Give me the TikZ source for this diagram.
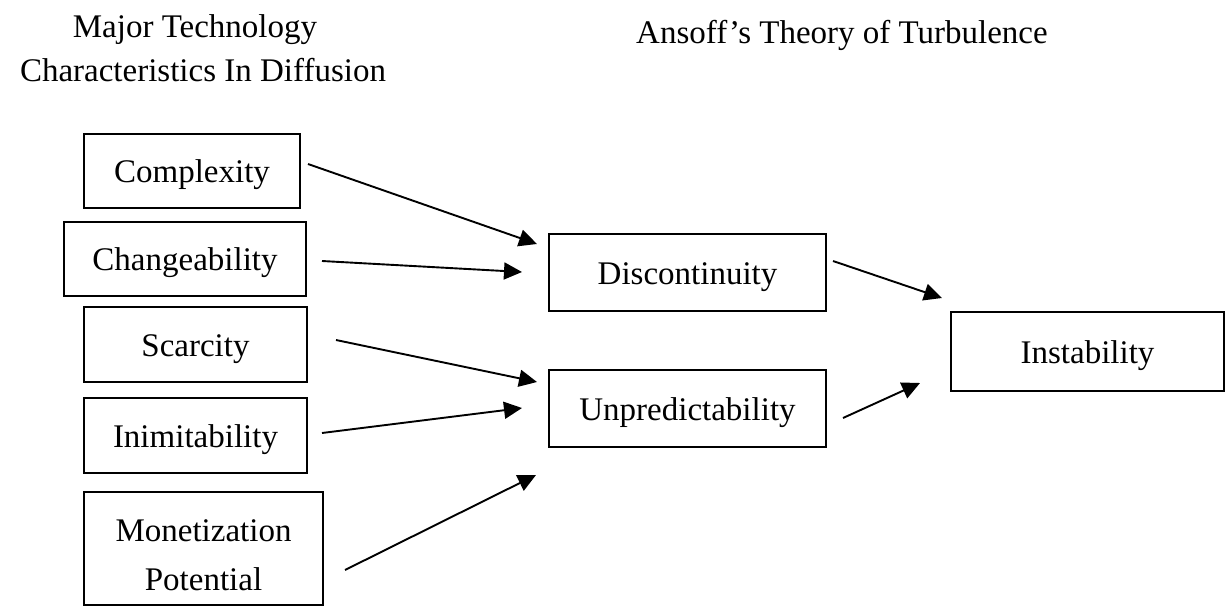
\documentclass[tikz,border=0pt]{standalone}
\usepackage{fontspec}
\setmainfont{Liberation Serif}
\usetikzlibrary{arrows.meta}
\begin{document}
\begin{tikzpicture}[x=1pt,y=-1pt,
  box/.style={draw=black,line width=2.7pt,inner sep=0pt,align=center,
    text height=27pt,text depth=4pt,font=\fontsize{33}{49}\selectfont},
  title/.style={inner sep=0pt,anchor=base,font=\fontsize{33}{45}\selectfont},
  link/.style={line width=1.9pt,-{Triangle[length=18pt,width=17pt]}}]
\useasboundingbox (0,0) rectangle (1226,608);
% headings
\node[title] (h1) at (195,37) {Major Technology};
\node[title] (h1b) at (203,81) {Characteristics In Diffusion};
\node[title] (h2) at (842,43) {Ansoff’s Theory of Turbulence};
% technology characteristics
\node[box,minimum width=216pt,minimum height=74pt] (cx) at (192,171) {Complexity};
\node[box,minimum width=242pt,minimum height=74pt] (ch) at (185,259) {Changeability};
\node[box,minimum width=223pt,minimum height=75pt] (sc) at (195.5,344.5) {Scarcity};
\node[box,minimum width=223pt,minimum height=75pt] (im) at (195.5,435.5) {Inimitability};
\node[box,minimum width=239pt,minimum height=113pt,text height=83pt,text depth=0pt]
  (mo) at (203.5,548.5) {Monetization\\Potential};
% turbulence
\node[box,minimum width=277pt,minimum height=77pt] (di) at (687.5,272.5) {Discontinuity};
\node[box,minimum width=277pt,minimum height=77pt] (un) at (687.5,408.5) {Unpredictability};
\node[box,minimum width=273pt,minimum height=79pt] (in) at (1087.5,351.5) {Instability};
% connector ends
\coordinate (a1) at (308,164);  \coordinate (b1) at (537,244);
\coordinate (a2) at (322,261);  \coordinate (b2) at (522,272);
\coordinate (a3) at (336,340);  \coordinate (b3) at (537,382);
\coordinate (a4) at (322,433);  \coordinate (b4) at (522,408);
\coordinate (a5) at (345,570);  \coordinate (b5) at (536,475);
\coordinate (a6) at (833,261);  \coordinate (b6) at (942,298);
\coordinate (a7) at (843,418);  \coordinate (b7) at (920,383);
\draw[link] (a1) -- (b1);
\draw[link] (a2) -- (b2);
\draw[link] (a3) -- (b3);
\draw[link] (a4) -- (b4);
\draw[link] (a5) -- (b5);
\draw[link] (a6) -- (b6);
\draw[link] (a7) -- (b7);
\end{tikzpicture}
\end{document}
